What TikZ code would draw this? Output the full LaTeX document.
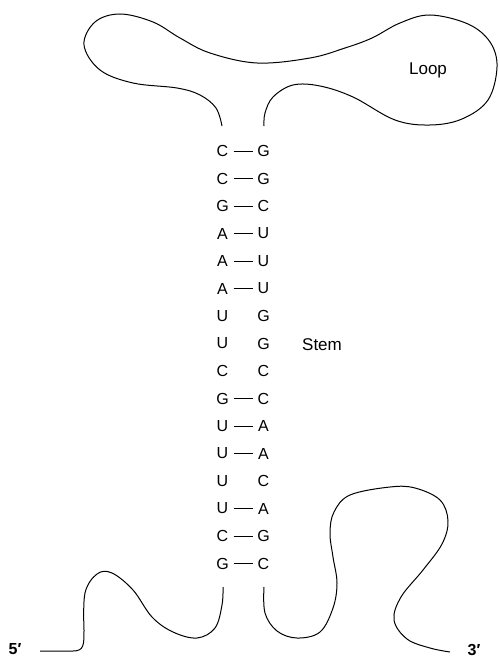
\documentclass[tikz,border=0pt]{standalone}
\usepackage{fontspec}
\setmainfont{Liberation Sans}
\begin{document}
\begin{tikzpicture}[x=1pt,y=-1pt,
  base/.style={inner sep=0pt,font=\fontsize{16}{16}\selectfont},
  lbl/.style={inner sep=0pt,font=\fontsize{17}{17}\selectfont},
  endlbl/.style={inner sep=0pt,font=\fontsize{16}{16}\selectfont\bfseries},
  strand/.style={line width=1pt},
  bond/.style={line width=0.8pt,shorten <=11pt,shorten >=11pt}]
\useasboundingbox (0,0) rectangle (499,658);
% stem letters
\foreach \i/\l/\r in {1/C/G,2/C/G,3/G/C,4/A/U,5/A/U,6/A/U,7/U/G,8/U/G,9/C/C,10/G/C,11/U/A,12/U/A,13/U/C,14/U/A,15/C/G,16/G/C}{
  \node[base] (L\i) at (222.5,{151+27.5*(\i-1)}) {\l};
  \node[base] (R\i) at (263.5,{151+27.5*(\i-1)}) {\r};
}
\foreach \i in {1,2,3,4,5,6,10,11,12,14,15,16}{
  \draw[bond] (L\i.center) -- (R\i.center);
}
\coordinate (ltop) at (222,126);
\coordinate (rtop) at (264,126);
\coordinate (lbot) at (223,587);
\coordinate (rbot) at (264,587);
\coordinate (fiveend) at (40,651);
\coordinate (threeend) at (450,652);
% loop
\draw[strand] (ltop) -- plot[smooth,tension=0.6] coordinates {(222,126) (216,108) (200,95) (177,88) (133,83) (100,70) (84,45) (95,22) (120,14) (153,22) (180,38) (210,53) (257,63) (310,58) (345,48) (372,38) (400,23) (430,15) (468,24) (490,42) (497,67) (488,100) (462,119) (430,125) (395,120) (353,97) (320,86) (293,85) (273,97) (265,113) (264,126)} -- (rtop);
% 5' strand
\draw[strand] (fiveend) -- (73,651) .. controls (84,651) and (84,645) .. (84,630) -- plot[smooth,tension=0.6] coordinates {(84,630) (85,593) (97,574) (112,573) (133,590) (152,617) (173,632) (197,638) (215,628) (222,605) (223,587)} -- (lbot);
% 3' strand
\draw[strand] (rbot) -- plot[smooth,tension=0.6] coordinates {(264,587) (265,613) (277,631) (297,638) (320,632) (333,608) (337,583) (333,557) (330,533) (334,512) (350,495) (390,487) (415,488) (440,500) (448,521) (442,544) (423,570) (401,597) (394,620) (407,639) (430,648) (450,652)} -- (threeend);
% labels
\node[lbl] (loop) at (428,70) {Loop};
\node[lbl] (stem) at (322,345) {Stem};
\node[endlbl] (five) at (15,649.5) {5′};
\node[endlbl] (three) at (474,649.5) {3′};
\end{tikzpicture}
\end{document}
